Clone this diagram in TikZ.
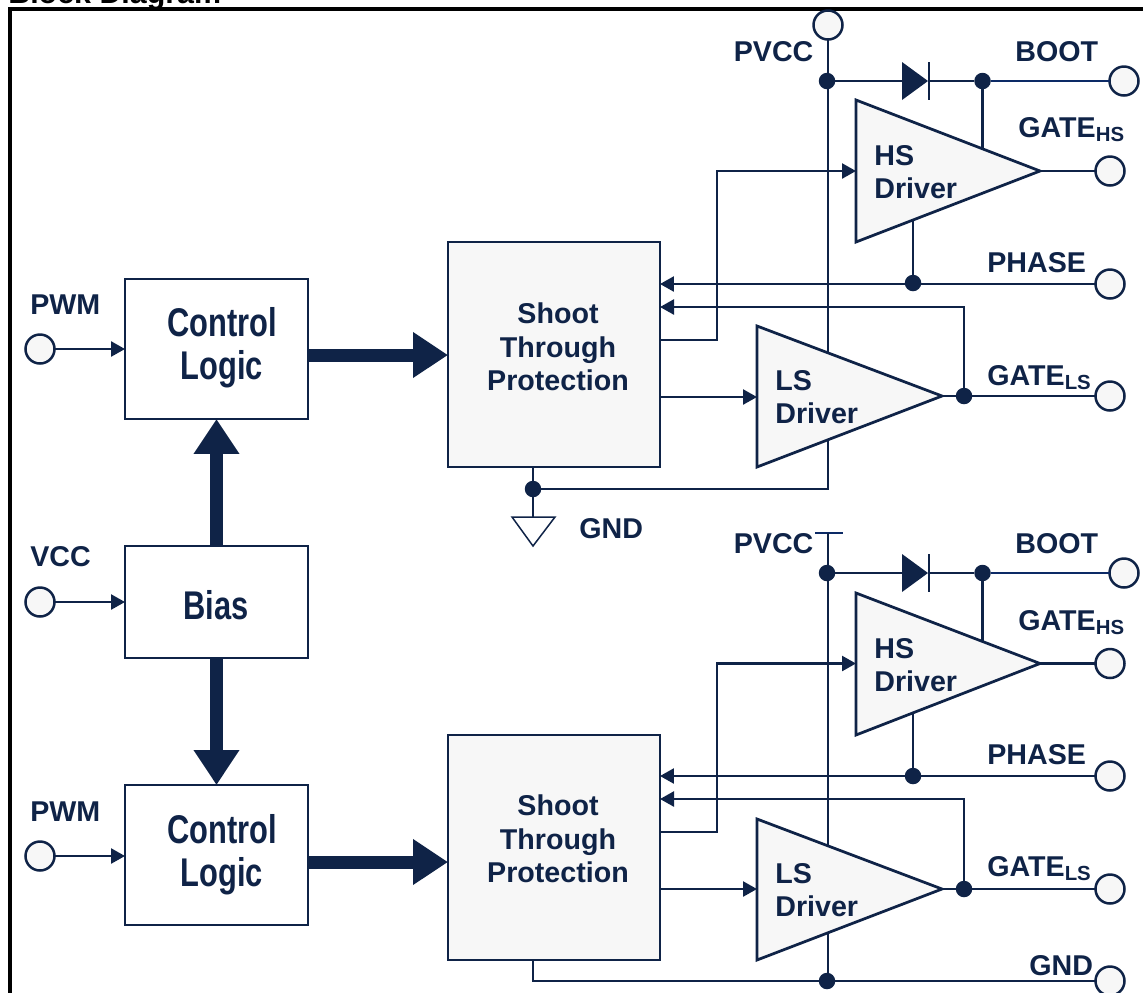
\documentclass[tikz,border=0pt]{standalone}
\usepackage{fontspec}
\setmainfont{Liberation Sans}
\newfontfamily\narrowfont[FakeStretch=0.77]{Liberation Sans}
\usetikzlibrary{arrows.meta}
\definecolor{navy}{HTML}{0F2347}
\definecolor{bootblue}{HTML}{0C2A66}
\definecolor{panel}{HTML}{F7F7F7}
\newcommand{\lowsub}[1]{\raisebox{-2.5pt}{\fontsize{11.6}{11.6}\selectfont #1}}
\tikzset{
  wire/.style={draw=navy,line width=.05cm},
  sig/.style={wire,-{Triangle[length=.28cm,width=.3cm]}},
  bus/.style={draw=navy,line width=.26cm,-{Triangle[length=.7cm,width=.87cm]}},
  pin/.style={circle,draw=navy,fill=panel,line width=.05cm,minimum size=.58cm,inner sep=0,outer sep=0},
  dot/.style={circle,fill=navy,minimum size=.33cm,inner sep=0,outer sep=0},
  logicbox/.style={draw=navy,fill=white,line width=.035cm,minimum width=3.66cm,outer sep=0},
  shootbox/.style={draw=navy,fill=panel,line width=.055cm,minimum width=4.24cm,minimum height=4.5cm,outer sep=0},
  driver/.style={draw=navy,fill=panel,line width=.055cm,line join=miter},
  lbl/.style={text=navy,font=\fontsize{16.3}{19}\selectfont\bfseries,anchor=base west,inner sep=0},
  txt/.style={text=navy,font=\fontsize{16.3}{19}\selectfont\bfseries,align=center,inner sep=0},
  drvtxt/.style={text=navy,font=\fontsize{16.3}{18.4}\selectfont\bfseries,align=left,anchor=west,inner sep=0},
  bigtxt/.style={text=navy,font=\fontsize{22.8}{24.5}\selectfont\narrowfont\bfseries,align=center,inner sep=0}
}
\begin{document}
\begin{tikzpicture}[x=.02cm,y=-.02cm]
\useasboundingbox (0,0) rectangle (1143,992);
\clip (0,0) rectangle (1143,992);
\node[font=\fontsize{17.3}{19}\selectfont\bfseries,anchor=base west,inner sep=0] (title) at (8,3) {Block Diagram};
\draw[black,line width=.08cm] (10,9) rectangle (1200,1100);

\node[logicbox,minimum height=2.8cm] (ctrla) at (216.5,349) {};
\node[logicbox,minimum height=2.24cm] (bias) at (216.5,602) {};
\node[logicbox,minimum height=2.8cm] (ctrlb) at (216.5,855) {};
\node[shootbox] (shoota) at (554,354.5) {};
\node[shootbox] (shootb) at (554,847.5) {};
\node[bigtxt] (ctrltxta) at (222,348) {Control\\Logic};
\node[bigtxt] (biastxt) at (216,605) {Bias};
\node[bigtxt] (ctrltxtb) at (222,855) {Control\\Logic};
\node[txt] (shoottxta) at (558,347) {Shoot\\Through\\Protection};
\node[txt] (shoottxtb) at (558,839) {Shoot\\Through\\Protection};

\node[pin] (pwma) at (40,349) {};
\node[pin] (vcc) at (40,602) {};
\node[pin] (pwmb) at (40,856) {};
\node[lbl] (pwmlbla) at (30,314) {PWM};
\node[lbl] (vcclbl) at (30,566) {VCC};
\node[lbl] (pwmlblb) at (30,821) {PWM};
\draw[sig] (pwma) -- (ctrla.west |- pwma);
\draw[sig] (vcc) -- (bias);
\draw[sig] (pwmb) -- (ctrlb.west |- pwmb);
\draw[bus] (bias.north) -- (ctrla.south);
\draw[bus] (bias.south) -- (ctrlb.north);
\coordinate (busa) at (308,355);
\coordinate (busb) at (308,862);
\draw[bus] (busa) -- (busa -| shoota.west);
\draw[bus] (busb) -- (busb -| shootb.west);

\node[pin] (pvcca) at (828,25) {};
\node[dot] (pvccdota) at (827,81) {};
\node[dot] (bootdota) at (982.5,81) {};
\node[pin] (boota) at (1124,81) {};
\node[pin] (gatehsa) at (1110,171) {};
\node[dot] (phasedota) at (913,283) {};
\node[pin] (phasea) at (1110,284) {};
\node[dot] (gatelsdota) at (964,396) {};
\node[pin] (gatelsa) at (1110,396) {};
\node[dot] (gnddota) at (533,489) {};
\coordinate (hsina) at (856,171);
\coordinate (hsouta) at (1040,171);
\coordinate (hstopa) at (982.5,152);
\coordinate (hsbota) at (913,218);
\coordinate (lsina) at (757,397);
\coordinate (lsouta) at (942,396);
\coordinate (tohsa) at (660,340);
\coordinate (benda) at (717,171);
\coordinate (fba) at (660,307);
\coordinate (pvccenda) at (828,489);
\coordinate (gndtopa) at (533,517);
\draw[wire] (pvcca) -- (pvccenda) -- (gnddota);
\draw[wire] (shoota.south -| gnddota) -- (gndtopa);
\draw[wire] (pvccdota) -- (902,81);
\draw[wire] (929,81) -- (bootdota);
\draw[wire,bootblue] (bootdota) -- (boota);
\draw[wire] (bootdota) -- (hstopa);
\draw[wire] (phasedota) -- (hsbota);
\draw[wire] (hsouta) -- (gatehsa);
\draw[wire] (lsouta) -- (gatelsa);
\draw[sig] (tohsa) -| (benda) -- (hsina);
\draw[sig] (phasea) -- (phasea -| shoota.east);
\draw[sig] (gatelsdota) |- (fba);
\draw[sig] (lsina -| shoota.east) -- (lsina);
\draw[fill=navy,draw=none] (902,62) -- (902,100) -- (928,81) -- cycle;
\draw[wire] (929,62) -- (929,100);
\draw[driver] (856,100) -- (856,242) -- (1040,171) -- cycle;
\draw[driver] (757,326) -- (757,467) -- (942,396) -- cycle;
\draw[wire,fill=white,line width=.03cm] (512,517) -- (555,517) -- (533,546) -- cycle;
\node[drvtxt] (hstxta) at (874,172) {HS\\Driver};
\node[drvtxt] (lstxta) at (775,397) {LS\\Driver};
\node[lbl] (pvcclbla) at (733.5,61) {PVCC};
\node[lbl] (bootlbla) at (1015,61) {BOOT};
\node[lbl] (gatehslbla) at (1018,137) {GATE\lowsub{HS}};
\node[lbl] (phaselbla) at (987,272) {PHASE};
\node[lbl] (gatelslbla) at (987,385) {GATE\lowsub{LS}};
\node[lbl] (gndlbla) at (579,538) {GND};

\coordinate (barl) at (815,533);
\coordinate (barr) at (843,533);
\coordinate (barc) at (828,533);
\node[dot] (pvccdotb) at (827,573) {};
\node[dot] (bootdotb) at (982.5,573) {};
\node[pin] (bootb) at (1124,573) {};
\node[pin] (gatehsb) at (1110,663.5) {};
\node[dot] (phasedotb) at (913,776) {};
\node[pin] (phaseb) at (1110,776) {};
\node[dot] (gatelsdotb) at (964,889) {};
\node[pin] (gatelsb) at (1110,889) {};
\node[dot] (gnddotb) at (827,981) {};
\node[pin] (gndb) at (1110,981) {};
\coordinate (hsinb) at (856,663.5);
\coordinate (hsoutb) at (1040,663.5);
\coordinate (hstopb) at (982.5,644);
\coordinate (hsbotb) at (913,711);
\coordinate (lsinb) at (757,889);
\coordinate (lsoutb) at (942,889);
\coordinate (tohsb) at (660,832);
\coordinate (bendb) at (717,663.5);
\coordinate (fbb) at (660,799);
\coordinate (gndtapb) at (533,960);
\draw[wire,bootblue] (barl) -- (barr);
\draw[wire] (barc) -- (barc |- gnddotb);
\draw[wire] (gndtapb) |- (gndb);
\draw[wire] (pvccdotb) -- (902,573);
\draw[wire] (929,573) -- (bootdotb);
\draw[wire,bootblue] (bootdotb) -- (bootb);
\draw[wire] (bootdotb) -- (hstopb);
\draw[wire] (phasedotb) -- (hsbotb);
\draw[wire] (hsoutb) -- (gatehsb);
\draw[wire] (lsoutb) -- (gatelsb);
\draw[sig] (tohsb) -| (bendb) -- (hsinb);
\draw[sig] (phaseb) -- (phaseb -| shootb.east);
\draw[sig] (gatelsdotb) |- (fbb);
\draw[sig] (lsinb -| shootb.east) -- (lsinb);
\draw[fill=navy,draw=none] (902,554) -- (902,592) -- (928,573) -- cycle;
\draw[wire] (929,554) -- (929,592);
\draw[driver] (856,593) -- (856,735) -- (1040,663.5) -- cycle;
\draw[driver] (757,819) -- (757,960) -- (942,889) -- cycle;
\node[drvtxt] (hstxtb) at (874,665) {HS\\Driver};
\node[drvtxt] (lstxtb) at (775,890) {LS\\Driver};
\node[lbl] (pvcclblb) at (733.5,553) {PVCC};
\node[lbl] (bootlblb) at (1015,553) {BOOT};
\node[lbl] (gatehslblb) at (1018,630) {GATE\lowsub{HS}};
\node[lbl] (phaselblb) at (987,764) {PHASE};
\node[lbl] (gatelslblb) at (987,876) {GATE\lowsub{LS}};
\node[lbl] (gndlblb) at (1029,975) {GND};
\end{tikzpicture}
\end{document}
